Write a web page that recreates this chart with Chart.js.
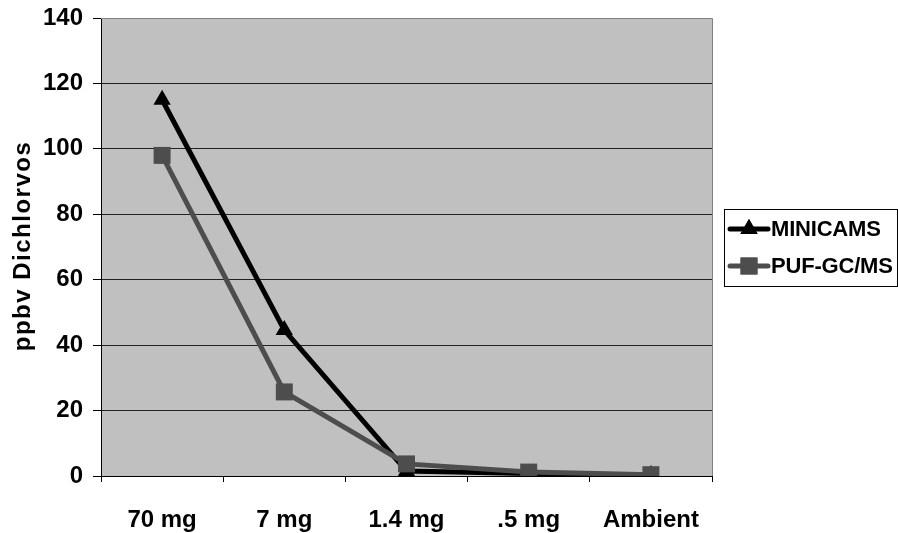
<!DOCTYPE html>
<html>
<head>
<meta charset="utf-8">
<script src="https://cdn.jsdelivr.net/npm/chart.js@4.4.0/dist/chart.umd.min.js"></script>
<style>
  body { margin: 0; background: #fff; }
  #wrap { width: 898px; height: 533px; }
</style>
</head>
<body>
<div id="wrap"><canvas id="chart"></canvas></div>
<script>
// data
const categories = ['70 mg', '7 mg', '1.4 mg', '.5 mg', 'Ambient'];
const minicams = [115, 44.6, 1.5, 0.8, 0.3];
const pufGcms = [98, 25.7, 3.7, 1.2, 0.4];
const yTicks = [0, 20, 40, 60, 80, 100, 120, 140];

const FONT = '"Liberation Sans", Arial, sans-serif';

// gray plot background + gray top/right border
const plotBg = {
    id: 'plotBg',
    beforeDraw(chart) {
        const { ctx, chartArea: a } = chart;
        ctx.save();
        ctx.fillStyle = '#c0c0c0';
        ctx.fillRect(a.left, a.top, a.right - a.left, a.bottom - a.top);
        ctx.restore();
    },
    afterDraw(chart) {
        const { ctx, chartArea: a } = chart;
        ctx.save();
        ctx.strokeStyle = '#808080';
        ctx.lineWidth = 1;
        ctx.beginPath();
        ctx.moveTo(a.left, a.top + 0.5);
        ctx.lineTo(a.right + 0.5, a.top + 0.5);
        ctx.lineTo(a.right + 0.5, a.bottom);
        ctx.stroke();
        ctx.restore();
    }
};

// y axis title, drawn with letter spacing
const yTitle = {
    id: 'yTitle',
    afterDraw(chart) {
        const { ctx } = chart;
        ctx.save();
        ctx.translate(23, 246);
        ctx.rotate(-Math.PI / 2);
        ctx.font = 'bold 24px ' + FONT;
        ctx.letterSpacing = '1.5px';
        ctx.fillStyle = '#000';
        ctx.textAlign = 'center';
        ctx.textBaseline = 'middle';
        ctx.fillText('ppbv Dichlorvos', 0, 0);
        ctx.restore();
    }
};

// boxed legend on the right, line + marker samples
const boxLegend = {
    id: 'boxLegend',
    afterDraw(chart) {
        const { ctx } = chart;
        ctx.save();
        ctx.strokeStyle = '#000';
        ctx.lineWidth = 1;
        ctx.strokeRect(724.5, 209.5, 173, 77);
        ctx.font = 'bold 22px ' + FONT;
        ctx.letterSpacing = '-0.2px';
        ctx.textBaseline = 'middle';
        const rows = [229, 266];
        chart.data.datasets.forEach((ds, i) => {
            const y = rows[i];
            ctx.strokeStyle = ds.borderColor;
            ctx.lineWidth = 5;
            ctx.lineCap = 'round';
            ctx.beginPath();
            ctx.moveTo(730, y);
            ctx.lineTo(768, y);
            ctx.stroke();
            ctx.fillStyle = ds.borderColor;
            Chart.helpers.drawPoint(ctx, { pointStyle: ds.pointStyle, radius: ds.pointRadius, borderWidth: 0, rotation: 0 }, 749, y);
            ctx.fill();
            ctx.fillStyle = '#000';
            ctx.fillText(ds.label, 771, y + 1);
        });
        ctx.restore();
    }
};

new Chart(document.getElementById('chart'), {
    type: 'line',
    data: {
        labels: categories,
        datasets: [{
            label: 'MINICAMS',
            data: minicams,
            borderColor: '#000000',
            backgroundColor: '#000000',
            borderWidth: 5,
            pointStyle: 'triangle',
            pointRadius: 10,
            pointBorderWidth: 0,
            tension: 0,
            order: 1
        }, {
            label: 'PUF-GC/MS',
            data: pufGcms,
            borderColor: '#4d4d4d',
            backgroundColor: '#4d4d4d',
            borderWidth: 5,
            pointStyle: 'rect',
            pointRadius: 12,
            pointBorderWidth: 0,
            tension: 0,
            order: 0
        }]
    },
    options: {
        responsive: true,
        maintainAspectRatio: false,
        animation: false,
        layout: { padding: { top: 18, right: 186, left: 0, bottom: 0 } },
        plugins: {
            legend: { display: false },
            tooltip: { enabled: false }
        },
        scales: {
            x: {
                offset: true,
                grid: {
                    offset: true,
                    drawOnChartArea: false,
                    tickLength: 6,
                    tickColor: '#000'
                },
                border: { color: '#000', width: 1 },
                ticks: {
                    color: '#000',
                    font: { family: FONT, size: 24, weight: 'bold' },
                    padding: 24,
                    maxRotation: 0
                },
                afterFit(scale) {
                    scale.height = 57;
                    scale.paddingLeft = 0;
                    scale.paddingRight = 0;
                }
            },
            y: {
                min: 0,
                max: 140,
                afterBuildTicks(scale) { scale.ticks = yTicks.map(v => ({ value: v })); },
                grid: {
                    color: ctx => (ctx.tick && ctx.tick.value === 140) ? '#808080' : '#222',
                    tickColor: '#000',
                    tickLength: 8
                },
                border: { color: '#000', width: 1 },
                ticks: {
                    color: '#000',
                    font: { family: FONT, size: 24, weight: 'bold' },
                    padding: 10
                },
                afterFit(scale) {
                    scale.width = 101;
                    scale.paddingTop = 0;
                    scale.paddingBottom = 0;
                }
            }
        }
    },
    plugins: [plotBg, yTitle, boxLegend]
});
</script>
</body>
</html>
